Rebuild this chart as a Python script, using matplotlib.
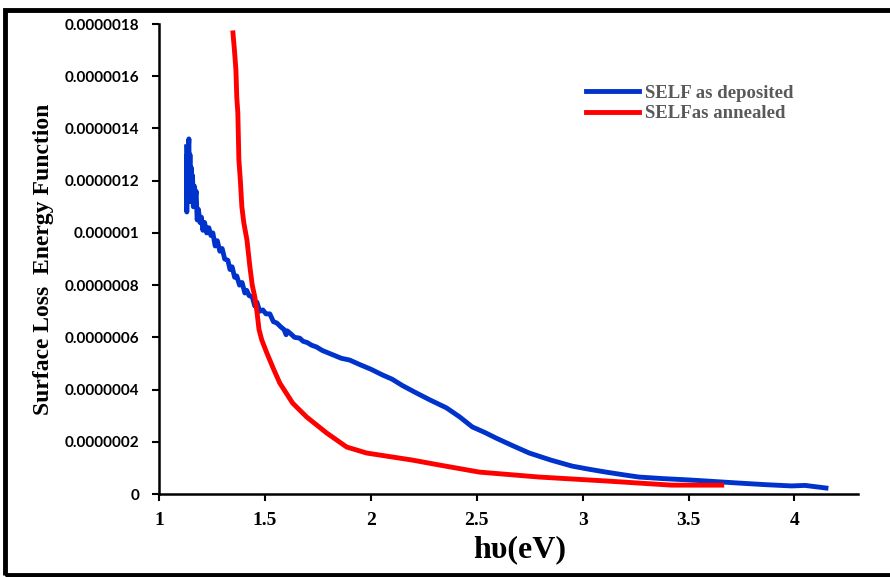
import numpy as np
import matplotlib.pyplot as plt
from matplotlib.patches import Rectangle

# SELF as deposited (blue), values in units of 1e-6
x_dep = [1.130, 1.131, 1.133, 1.135, 1.138, 1.141, 1.143, 1.146, 1.149, 1.152,
         1.155, 1.158, 1.162, 1.166, 1.170, 1.175, 1.180, 1.186, 1.193, 1.200,
         1.207, 1.215, 1.225, 1.235, 1.245, 1.254, 1.265, 1.275, 1.287, 1.298,
         1.310, 1.325, 1.335, 1.345, 1.357, 1.367, 1.380, 1.392, 1.405, 1.414,
         1.425, 1.440, 1.452, 1.462, 1.475, 1.490, 1.505, 1.523, 1.540, 1.556,
         1.575, 1.590, 1.600, 1.605, 1.620, 1.640, 1.664, 1.680, 1.700, 1.720,
         1.744, 1.770, 1.800, 1.830, 1.860, 1.900, 1.950, 2.000, 2.055, 2.100,
         2.150, 2.215, 2.280, 2.357, 2.420, 2.479, 2.540, 2.592, 2.670, 2.748,
         2.850, 2.950, 3.030, 3.110, 3.190, 3.266, 3.380, 3.501, 3.620, 3.737,
         3.860, 3.986, 4.050, 4.100, 4.149]
y_dep = [1.33, 1.08, 1.30, 1.12, 1.32, 1.36, 1.15, 1.30, 1.12, 1.25,
         1.13, 1.22, 1.10, 1.18, 1.12, 1.16, 1.05, 1.09, 1.04, 1.06,
         1.01, 1.04, 1.00, 1.02, 0.99, 1.00, 0.95, 0.97, 0.93, 0.94,
         0.90, 0.895, 0.86, 0.87, 0.83, 0.835, 0.80, 0.81, 0.77, 0.78,
         0.76, 0.755, 0.72, 0.735, 0.70, 0.705, 0.69, 0.69, 0.66, 0.655,
         0.64, 0.63, 0.61, 0.625, 0.615, 0.60, 0.597, 0.585, 0.58, 0.57,
         0.563, 0.55, 0.54, 0.53, 0.52, 0.513, 0.495, 0.478, 0.456, 0.44,
         0.415, 0.387, 0.36, 0.33, 0.295, 0.257, 0.235, 0.214, 0.185, 0.157,
         0.13, 0.107, 0.095, 0.084, 0.074, 0.065, 0.059, 0.054, 0.048, 0.042,
         0.036, 0.031, 0.033, 0.028, 0.023]

# SELF as annealed (red), values in units of 1e-6
x_ann = [1.349, 1.356, 1.363, 1.367, 1.372, 1.377, 1.384, 1.391, 1.400, 1.415,
         1.429, 1.440, 1.452, 1.462, 1.472, 1.485, 1.509, 1.540, 1.570, 1.631,
         1.697, 1.791, 1.886, 1.980, 2.196, 2.324, 2.512, 2.795, 3.110, 3.421,
         3.657]
y_ann = [1.766, 1.70, 1.624, 1.52, 1.46, 1.28, 1.20, 1.10, 1.04, 0.973,
         0.87, 0.80, 0.755, 0.70, 0.63, 0.59, 0.54, 0.48, 0.425, 0.348,
         0.295, 0.234, 0.18, 0.157, 0.13, 0.111, 0.084, 0.065, 0.05, 0.034,
         0.034]

scale = 1e-6
x_ticks = [1, 1.5, 2, 2.5, 3, 3.5, 4]
y_ticks = [0, 2e-7, 4e-7, 6e-7, 8e-7, 1e-6, 1.2e-6, 1.4e-6, 1.6e-6, 1.8e-6]
y_labels = ['0', '0.0000002', '0.0000004', '0.0000006', '0.0000008',
            '0.000001', '0.0000012', '0.0000014', '0.0000016', '0.0000018']

fig = plt.figure(figsize=(8.9, 5.77), dpi=100)
ax = fig.add_axes([0.1787, 0.1438, 0.7853, 0.8146])

ax.plot(x_dep, np.array(y_dep) * scale, color='#0033cc', lw=3.5,
        solid_joinstyle='round', label='SELF as deposited')
ax.plot(x_ann, np.array(y_ann) * scale, color='#ff0000', lw=3.5,
        solid_joinstyle='round', label='SELFas annealed')

ax.set_xlim(1, 4.3)
ax.set_ylim(0, 1.8e-6)
ax.spines['top'].set_visible(False)
ax.spines['right'].set_visible(False)
for s in ['left', 'bottom']:
    ax.spines[s].set_linewidth(1.8)

ax.set_xticks(x_ticks)
ax.set_xticklabels([str(t) for t in x_ticks], fontfamily='Liberation Serif',
                   fontweight='bold', fontsize=14)
ax.set_yticks(y_ticks)
ax.set_yticklabels(y_labels, fontfamily='Lato', fontweight='bold', fontsize=11)
ax.tick_params(axis='x', length=5, width=1.5, pad=8)
ax.tick_params(axis='y', length=5, width=1.5, pad=9)

ax.set_xlabel('hυ(eV)', fontfamily='Liberation Serif', fontweight='bold',
              fontsize=23)
ax.xaxis.set_label_coords(0.516, -0.088)
ax.set_ylabel('Surface Loss  Energy Function', fontfamily='Liberation Serif',
              fontweight='bold', fontsize=17, labelpad=8)

leg = ax.legend(loc='upper left', bbox_to_anchor=(0.640, 0.883),
                bbox_transform=fig.transFigure, frameon=False,
                prop={'family': 'Liberation Serif', 'weight': 'bold', 'size': 13.5},
                handlelength=2.8, handletextpad=0.3, labelspacing=0.2)
for t in leg.get_texts():
    t.set_color('#595959')

# outer border of the picture
fig.patches.append(Rectangle((0.006, 0.003), 1.1, 0.98, transform=fig.transFigure,
                             fill=False, edgecolor='black', lw=3.5))

fig.savefig('out.png', dpi=100)
